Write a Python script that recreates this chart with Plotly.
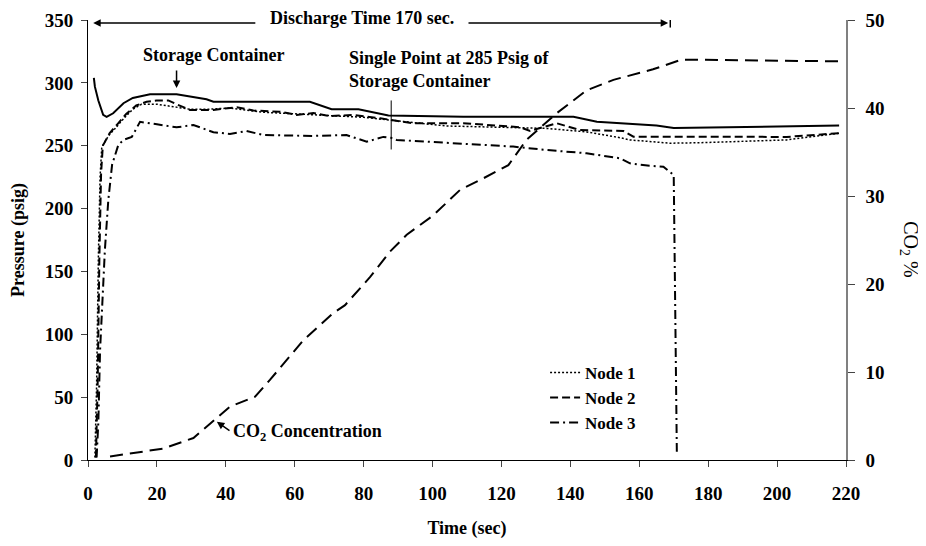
import plotly.graph_objects as go

# --- data ---
t_storage = [1.7, 2.0, 3.0, 4.4, 5.4, 7.3, 10.3, 13, 18, 25.7, 34.4, 36.4, 64.4, 70.7, 78.5,
             87.2, 108.9, 140.9, 147.7, 165, 170, 218]
p_storage = [304, 297, 286, 274.5, 273, 275.8, 283.8, 288, 291, 291, 287, 285, 285, 279, 279,
             274, 273, 273, 269, 266, 264, 266]

t_node1 = [2, 2.5, 3, 3.5, 4, 6, 8.3, 10.5, 13, 15.5, 20, 23.8, 29.6, 35, 41.2, 50.9, 65.4,
           80, 87.2, 104, 133, 144.7, 154.4, 157.3, 169, 177.6, 202.8, 218.3]
p_node1 = [2, 60, 160, 225, 249, 258, 265, 272, 279, 283, 283, 281.6, 279, 279, 280, 276.6,
           274.5, 272.6, 270.5, 265.7, 263.8, 261, 256.4, 254.6, 252, 252.4, 254.6, 260]

t_node2 = [2.3, 2.8, 3.3, 3.8, 4.3, 6.3, 8.5, 11, 14, 17, 19.9, 23.3, 25.7, 29.6, 36.4, 43.2,
           48, 55.7, 60.6, 65.4, 70.2, 77, 84.8, 94.4, 108.9, 125.4, 128.3, 136, 142.8, 155.4,
           158.3, 177.6, 202.8, 218.3]
p_node2 = [2, 60, 160, 228, 250, 260, 267, 275, 282, 285, 286, 286, 283, 278.5, 278.5, 280.6,
           278, 277, 274.5, 276, 273.6, 274.5, 271.8, 267.9, 267.9, 264.7, 261.7, 267.9, 262.5,
           261.7, 257.2, 257.2, 257, 260]

t_node3 = [2.5, 3, 3.5, 4.2, 4.9, 5.9, 7, 8.8, 10.3, 12.7, 15.1, 20, 25.7, 30.6, 36.4, 41.2,
           46, 50.9, 65.4, 75, 80.9, 85.7, 88.6, 89.6, 108.9, 123.4, 133, 144.7, 154.4, 157.3,
           163, 167, 170, 170.9]
p_node3 = [2, 30, 87, 130, 167, 207, 235, 250.6, 254.6, 257, 269, 267, 264.6, 266.5, 260.7,
           259.4, 261.7, 258.5, 257.8, 258.5, 253.2, 257, 256, 254.6, 251.4, 249.3, 246.6, 244,
           240, 236, 234, 233.3, 226.7, 6.6]

t_co2 = [6.4, 21.9, 30.6, 36.4, 41.2, 48.5, 52.8, 62.5, 71.2, 74.6, 81.9, 87.7, 92.5, 100.2,
         108, 114.7, 122, 127.3, 136, 144.7, 152.5, 164, 172.3, 218.3]
co2_pct = [0.4, 1.3, 2.5, 4.4, 6.06, 7.2, 9.1, 13.6, 16.7, 17.6, 20.8, 23.7, 25.6, 27.8,
           30.7, 32, 33.5, 36.4, 39.4, 42, 43.2, 44.4, 45.5, 45.3]

FONT = "Liberation Serif"
bold = dict(family=FONT, size=18, color="black", weight="bold")
tickbold = dict(family=FONT, size=19, color="black", weight="bold")

fig = go.Figure()
fig.add_trace(go.Scatter(x=t_storage, y=p_storage, mode="lines", showlegend=False,
                         line=dict(color="black", width=2)))
fig.add_trace(go.Scatter(x=t_node1, y=p_node1, mode="lines", name="Node 1",
                         line=dict(color="black", width=1.5, dash="2px,2px")))
fig.add_trace(go.Scatter(x=t_node2, y=p_node2, mode="lines", name="Node 2",
                         line=dict(color="black", width=2, dash="8px,4px")))
fig.add_trace(go.Scatter(x=t_node3, y=p_node3, mode="lines", name="Node 3",
                         line=dict(color="black", width=2, dash="9px,4px,2px,4px")))
fig.add_trace(go.Scatter(x=t_co2, y=co2_pct, mode="lines", showlegend=False, yaxis="y2",
                         line=dict(color="black", width=2, dash="13px,7px")))

arrow = dict(showarrow=True, arrowhead=2, arrowsize=1, arrowwidth=1.5, arrowcolor="black",
             axref="x", ayref="y", text="")
annotations = [
    dict(x=79.4, y=1.0045, xref="x", yref="paper", yanchor="middle",
         text="Discharge Time 170 sec.", showarrow=False, font=bold),
    dict(x=1.5, y=347.6, ax=49, ay=347.6, **arrow),
    dict(x=168.4, y=347.6, ax=110, ay=347.6, **arrow),
    dict(x=36.3, y=322, text="Storage Container", showarrow=False, font=bold),
    dict(x=25.7, y=296, ax=25.7, ay=311, **arrow),
    dict(x=75.3, y=311, text="Single Point at 285 Psig of<br>Storage Container",
         showarrow=False, xanchor="left", align="left", font=bold),
    dict(x=41.6, y=21.5, text="CO<sub>2</sub> Concentration", showarrow=False,
         xanchor="left", font=bold),
    dict(x=37.4, y=30.4, ax=41.5, ay=22.5, **arrow),
    dict(x=1.103, y=0.48, xref="paper", yref="paper", text="CO<sub>2</sub> %",
         showarrow=False, textangle=90, font=dict(family=FONT, size=20, color="black")),
]

# the page adds 8px of body margin, so the figure is 8px smaller than the window
fig.update_layout(
    width=918, height=538,
    margin=dict(l=80, r=80, t=12, b=86),
    plot_bgcolor="white", paper_bgcolor="white",
    font=dict(family=FONT, size=18, color="black"),
    annotations=annotations,
    shapes=[
        dict(type="line", x0=169, x1=169, y0=344, y1=351.5, line=dict(color="black", width=1.5)),
        dict(type="line", x0=88, x1=88, y0=247, y1=286, line=dict(color="black", width=1)),
    ],
    legend=dict(x=0.603, y=0.239, xanchor="left", yanchor="top",
                font=dict(family=FONT, size=17, color="black", weight="bold"),
                bgcolor="rgba(0,0,0,0)", tracegroupgap=0),
    xaxis=dict(range=[0, 220], dtick=20, ticks="outside", ticklen=6, showline=True,
               linecolor="black", showgrid=False, zeroline=False, tickfont=tickbold,
               ticklabelstandoff=10,
               title=dict(text="Time (sec)", font=bold, standoff=18)),
    yaxis=dict(range=[0, 350], dtick=50, ticks="outside", ticklen=6, showline=True,
               linecolor="black", showgrid=False, zeroline=False, tickfont=tickbold,
               ticklabelstandoff=4, automargin=False,
               title=dict(text="Pressure (psig)", font=bold, standoff=17)),
    yaxis2=dict(range=[0, 50], dtick=10, overlaying="y", side="right", ticks="outside",
                ticklen=7, showline=True, linecolor="#808080", linewidth=1.5,
                showgrid=False, zeroline=False, tickfont=tickbold, ticklabelstandoff=7,
                automargin=False),
)

fig.write_html("out.html")
